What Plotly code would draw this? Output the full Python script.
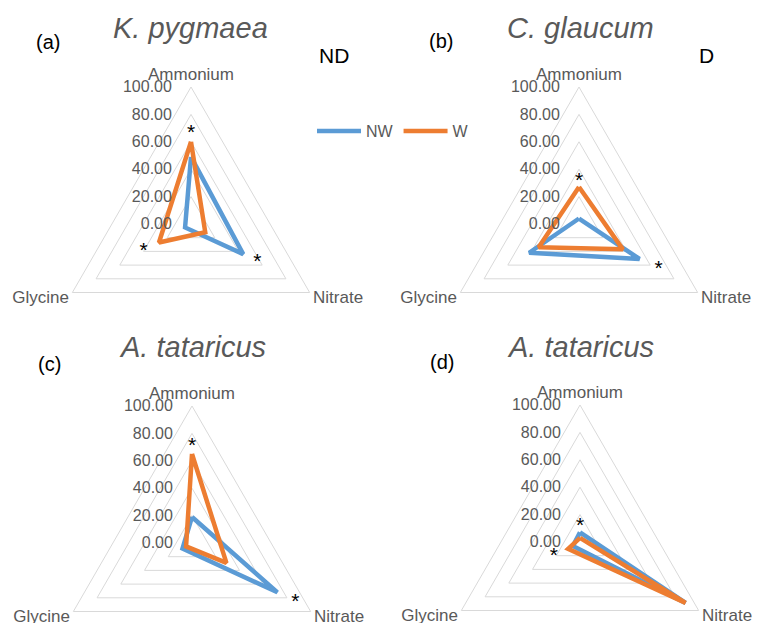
import plotly.graph_objects as go

# ---------------- data ----------------
categories = ["Ammonium", "Nitrate", "Glycine"]
category_labels = ["Ammonium", "Nitrate<br> ", "Glycine<br> "]
tick_values = [0, 20, 40, 60, 80, 100]
series_names = ["NW", "W"]

# (a) K. pygmaea, ND
kp_nw = [49, 44, 5]
kp_w = [60, 12, 27]
# (b) C. glaucum, D
cg_nw = [4, 51, 42]
cg_w = [27, 37, 34]
# (c) A. tataricus
atc_nw = [19, 72, 8]
atc_w = [65, 29, 5]
# (d) A. tataricus
atd_nw = [7, 89, 6]
atd_w = [3, 89, 10]

# significance asterisks (category, radial position)
stars_a_theta = ["Ammonium", "Glycine", "Nitrate"]
stars_a_r = [66, 40, 56]
stars_b_theta = ["Ammonium", "Nitrate"]
stars_b_r = [31, 67]
stars_c_theta = ["Ammonium", "Nitrate"]
stars_c_r = [70, 87]
stars_d_theta = ["Ammonium", "Glycine"]
stars_d_r = [11, 22]

titles = ["K. pygmaea", "C. glaucum", "A. tataricus", "A. tataricus"]
panel_tags = ["(a)", "(b)", "(c)", "(d)"]

# ---------------- layout helpers ----------------
W, H = 759, 680
R = 137
centers = [(191, 224), (579, 224), (192, 543), (580, 542)]
colors = {"NW": "#5B9BD5", "W": "#ED7D31"}
GRAY = "#595959"
GRID = "#D9D9D9"
FONT = "Liberation Sans, Arial, sans-serif"

panels = [
    (kp_nw, kp_w, stars_a_theta, stars_a_r),
    (cg_nw, cg_w, stars_b_theta, stars_b_r),
    (atc_nw, atc_w, stars_c_theta, stars_c_r),
    (atd_nw, atd_w, stars_d_theta, stars_d_r),
]

fig = go.Figure()
layout_polars = {}
for i, (nw, w, st_theta, st_r) in enumerate(panels):
    pid = "polar" if i == 0 else f"polar{i + 1}"
    for name, vals in zip(series_names, [nw, w]):
        fig.add_trace(go.Scatterpolar(
            r=vals + vals[:1],
            theta=categories + categories[:1],
            mode="lines",
            name=name,
            line=dict(color=colors[name], width=4.5),
            showlegend=(i == 0),
            hoverinfo="skip",
            subplot=pid,
        ))
    fig.add_trace(go.Scatterpolar(
        r=st_r, theta=st_theta, mode="text", text=["*"] * len(st_r),
        textposition="middle center",
        textfont=dict(size=21, color="black", family=FONT),
        showlegend=False, hoverinfo="skip", subplot=pid,
    ))
    cx, cy = centers[i]
    layout_polars[pid] = dict(
        domain=dict(
            x=[max(0, (cx - R) / W), min(1, (cx + R) / W)],
            y=[max(0, (H - cy - R) / H), min(1, (H - cy + R) / H)],
        ),
        gridshape="linear",
        bgcolor="rgba(0,0,0,0)",
        radialaxis=dict(
            range=[0, 100], tickvals=tick_values, tickformat=".2f",
            angle=90, side="counterclockwise", tickangle=90,
            showline=False, gridcolor=GRID, gridwidth=1,
            ticks="outside", ticklen=13, tickcolor="rgba(0,0,0,0)",
            tickfont=dict(size=16, color=GRAY, family=FONT),
        ),
        angularaxis=dict(
            type="category", categoryarray=categories,
            tickmode="array", tickvals=categories, ticktext=category_labels,
            direction="clockwise", rotation=90,
            showgrid=False, showline=True, linecolor=GRID, linewidth=1,
            ticks="", tickfont=dict(size=17, color=GRAY, family=FONT),
        ),
    )

annotations = []
title_pos = [(190, 28), (580, 28), (192, 347), (580, 347)]
tag_pos = [(48, 42), (441, 41), (49, 364), (442, 362)]
for t, (x, y) in zip(titles, title_pos):
    annotations.append(dict(
        text=t, x=x / W, y=1 - y / H, xref="paper", yref="paper",
        xanchor="center", yanchor="middle", showarrow=False,
        font=dict(size=29, color=GRAY, family=FONT, style="italic"),
    ))
for t, (x, y) in zip(panel_tags, tag_pos):
    annotations.append(dict(
        text=t, x=x / W, y=1 - y / H, xref="paper", yref="paper",
        xanchor="center", yanchor="middle", showarrow=False,
        font=dict(size=20, color="black", family=FONT),
    ))
for t, (x, y) in zip(["ND", "D"], [(334, 55), (706, 55)]):
    annotations.append(dict(
        text=t, x=x / W, y=1 - y / H, xref="paper", yref="paper",
        xanchor="center", yanchor="middle", showarrow=False,
        font=dict(size=21, color="black", family=FONT),
    ))

fig.update_layout(
    width=W, height=H,
    margin=dict(l=0, r=0, t=0, b=0),
    paper_bgcolor="white",
    font=dict(family=FONT, color=GRAY),
    annotations=annotations,
    legend=dict(
        orientation="h", x=312 / W, y=1 - 131 / H,
        xanchor="left", yanchor="middle",
        itemwidth=44, font=dict(size=16, color=GRAY, family=FONT),
        bgcolor="rgba(0,0,0,0)",
    ),
    **layout_polars,
)

fig.write_html("out.html")
